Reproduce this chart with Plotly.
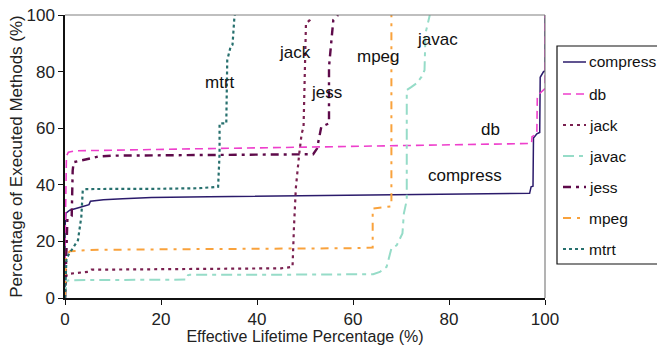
import plotly.graph_objects as go

# Cumulative share of executed methods vs. effective lifetime, per benchmark
compress_x = [0, 0, 0.2, 1, 3, 5, 5.3, 8, 12, 18, 30, 50, 70, 90, 96.8, 97.1, 97.5, 97.6, 98.3, 98.9, 99.0, 99.7, 100, 100]
compress_y = [0, 25, 30, 31, 32, 33, 34.2, 34.7, 35.1, 35.5, 35.8, 36.1, 36.4, 36.8, 37, 39.3, 39.5, 56.5, 58, 58.5, 78, 80, 80, 100]

db_x = [0, 0, 0.3, 0.7, 2, 10, 30, 50, 70, 90, 97.2, 97.3, 98.3, 98.4, 99.8, 100, 100]
db_y = [0, 17, 50.2, 51.5, 52, 52.3, 52.8, 53.3, 53.8, 54.3, 54.6, 57, 58, 71.5, 73.7, 74, 100]

jack_x = [0, 0.3, 0.5, 3, 5, 5.5, 15, 30, 45, 47.4, 47.7, 48.1, 48.8, 49.3, 49.7, 50.0, 50.2, 51, 51.3]
jack_y = [0, 8, 8.5, 9, 9.3, 10, 10.2, 10.3, 10.5, 11, 25, 39, 51, 58, 60.5, 81.7, 97, 98.2, 99.6]

javac_x = [0, 0.3, 0.9, 10, 25.3, 25.6, 26, 40, 55, 62, 64.2, 65.6, 67, 68, 69.1, 70.3, 70.6, 71.2, 71.2, 72.2, 73.2, 74.3, 74.9, 75.1, 76]
javac_y = [0, 6, 6.3, 6.3, 6.5, 8, 8.2, 8.2, 8.3, 8.4, 8.4, 9.2, 11, 17.5, 18.6, 22.8, 29.9, 34.6, 73.5, 74.6, 75.8, 78.2, 80.5, 93.5, 100]

jess_x = [0, 0.3, 0.5, 1.4, 1.6, 1.8, 3, 5, 7, 10, 30, 50, 51.7, 52.5, 53.4, 55, 55, 55.9, 56.9]
jess_y = [0, 15, 28, 29, 45, 48, 48.5, 49.2, 50, 50.3, 50.5, 50.6, 50.8, 52.8, 60.5, 61.7, 81.7, 98.2, 100]

mpeg_x = [0, 0.2, 1, 3, 5, 20, 40, 60, 64.1, 64.1, 68, 68]
mpeg_y = [0, 15, 16.5, 16.8, 17, 17.2, 17.3, 17.6, 17.8, 31.6, 32.4, 100]

mtrt_x = [0, 0.3, 0.9, 2.7, 3.4, 3.7, 4.5, 10, 20, 28, 31.9, 32.2, 32.2, 33.6, 33.8, 34.5, 34.9, 35.3, 35.4]
mtrt_y = [0, 14, 15.7, 20.4, 28.7, 38, 38.5, 38.5, 38.6, 38.8, 39.3, 51, 61.7, 61.7, 84, 88.8, 89.5, 99.4, 100]

names = ["compress", "db", "jack", "javac", "jess", "mpeg", "mtrt"]
xs = [compress_x, db_x, jack_x, javac_x, jess_x, mpeg_x, mtrt_x]
ys = [compress_y, db_y, jack_y, javac_y, jess_y, mpeg_y, mtrt_y]

# in-plot labels: (text, x, y)
label_text = ["mtrt", "jack", "jess", "mpeg", "javac", "db", "compress"]
label_x = [32.2, 47.9, 54.5, 65.4, 77.5, 88.7, 83.3]
label_y = [76, 86.9, 72.5, 85.5, 91.2, 59.6, 43.4]

x_ticks = [0, 20, 40, 60, 80, 100]
y_ticks = [0, 20, 40, 60, 80, 100]

colors = ["#2B1B6B", "#EE3FCC", "#7A2050", "#96DCC8", "#5E0A4A", "#F9A23C", "#27706E"]
dashes = ["solid", "8px,5px", "3px,4px", "11px,5px,4px,5px", "8px,5px,3px,5px", "8px,6px,3px,6px", "3px,3px"]
widths = [1.5, 1.6, 2.2, 2.0, 2.4, 2.0, 2.2]

FONT = "Liberation Sans, Arial, sans-serif"
W, H = 657, 345
ML, MR, MT, MB = 65, 112, 15, 47
PW, PH = W - ML - MR, H - MT - MB


def px_to_paper(px, py):
    return (px - ML) / PW, (H - MB - py) / PH


fig = go.Figure()
for name, x, y, c, d, w in zip(names, xs, ys, colors, dashes, widths):
    fig.add_trace(go.Scatter(x=x, y=y, mode="lines", name=name,
                             line=dict(color=c, dash=d, width=w),
                             showlegend=False, cliponaxis=True))

for t, x, y in zip(label_text, label_x, label_y):
    fig.add_annotation(x=x, y=y, text=t, showarrow=False,
                       font=dict(family=FONT, size=17, color="#111"))

# boxed legend at right
shapes = []
bx0, by0 = px_to_paper(557, 46)
bx1, by1 = px_to_paper(700, 264)
shapes.append(dict(type="rect", xref="paper", yref="paper", x0=bx0, y0=by1, x1=bx1, y1=by0,
                   line=dict(color="#111", width=1.2), fillcolor="white", layer="above"))
legend_rows = [62, 94, 125, 156, 187, 218, 249]
for name, c, d, w, py in zip(names, colors, dashes, widths, legend_rows):
    lx0, ly = px_to_paper(563, py)
    lx1, _ = px_to_paper(586, py)
    shapes.append(dict(type="line", xref="paper", yref="paper", x0=lx0, y0=ly, x1=lx1, y1=ly,
                       line=dict(color=c, dash=d, width=w), layer="above"))
    tx, _ = px_to_paper(587, py)
    fig.add_annotation(xref="paper", yref="paper", x=tx, y=ly, text=name, showarrow=False,
                       xanchor="left", yanchor="middle",
                       font=dict(family=FONT, size=15.5, color="#111"))

# grey frame on top/right of plot area
shapes.append(dict(type="line", xref="paper", yref="paper", x0=0, y0=1, x1=1, y1=1,
                   line=dict(color="#808080", width=1.2)))
shapes.append(dict(type="line", xref="paper", yref="paper", x0=1, y0=0, x1=1, y1=1,
                   line=dict(color="#808080", width=1.2)))

fig.update_layout(
    width=W, height=H,
    margin=dict(l=ML, r=MR, t=MT, b=MB),
    paper_bgcolor="white", plot_bgcolor="white",
    font=dict(family=FONT, size=17, color="#222"),
    shapes=shapes,
    showlegend=False,
)
fig.update_xaxes(range=[0, 100], tickvals=x_ticks, ticks="outside", ticklen=5, tickcolor="#111",
                 showline=True, linecolor="#111", linewidth=1.5, showgrid=False, zeroline=False,
                 automargin=False,
                 tickfont=dict(size=17), title=dict(text="Effective Lifetime Percentage (%)",
                                                   font=dict(size=16), standoff=3))
fig.update_yaxes(range=[0, 100], tickvals=y_ticks, ticks="outside", ticklen=5, tickcolor="#111",
                 showline=True, linecolor="#111", linewidth=1.5, showgrid=False, zeroline=False,
                 automargin=False,
                 tickfont=dict(size=17), title=dict(text="Percentage of Executed Methods (%)",
                                                   font=dict(size=17), standoff=0))

fig.write_html("out.html")
